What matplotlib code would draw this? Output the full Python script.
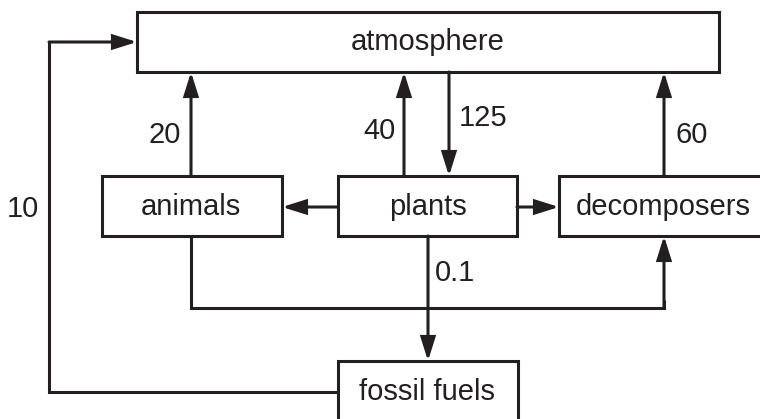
import matplotlib.pyplot as plt
from matplotlib.patches import Rectangle, FancyArrowPatch

# flow labels (carbon flux values)
node_names = ['atmosphere', 'animals', 'plants', 'decomposers', 'fossil fuels']
flow_values = ['20', '40', '125', '60', '0.1', '10']

ink = '#231f20'
lw = 2.2
fs = 21
font = 'Liberation Sans'

fig = plt.figure(figsize=(7.6, 4.19), dpi=100)
ax = fig.add_axes([0, 0, 1, 1])
ax.set_xlim(0, 760)
ax.set_ylim(419, 0)
ax.axis('off')

# box layout in pixel coords: x0, x1, y0, y1
boxes = {
    'atmosphere': (137, 719, 12, 72),
    'animals': (102, 282, 176, 236),
    'plants': (338, 517, 176, 236),
    'decomposers': (559, 820, 176, 236),
    'fossil fuels': (338, 518, 361, 460),
}
text_pos = {
    'atmosphere': (428, 42),
    'animals': (191, 207),
    'plants': (428, 207),
    'decomposers': (663, 207),
    'fossil fuels': (427, 392),
}

for name in node_names:
    x0, x1, y0, y1 = boxes[name]
    ax.add_patch(Rectangle((x0, y0), x1 - x0, y1 - y0, facecolor='white',
                           edgecolor=ink, linewidth=lw, joinstyle='miter', zorder=2))
    tx, ty = text_pos[name]
    ax.text(tx, ty, name, fontsize=fs, family=font, color=ink,
            ha='center', va='center', zorder=3)


def arrow(p0, p1):
    a = FancyArrowPatch(p0, p1, arrowstyle='-|>,head_length=0.7,head_width=0.22',
                        mutation_scale=20, color=ink, linewidth=lw,
                        shrinkA=0, shrinkB=0, joinstyle='miter', zorder=4)
    ax.add_patch(a)


def line(xs, ys):
    ax.plot(xs, ys, color=ink, linewidth=lw, solid_joinstyle='miter',
            solid_capstyle='butt', zorder=1)


# vertical flows to / from atmosphere
arrow((191, 176), (191, 72))
arrow((404, 176), (404, 72))
arrow((449, 72), (449, 176))
arrow((664, 176), (664, 72))

# plants to animals / decomposers
arrow((338, 207), (282, 207))
arrow((517, 207), (559, 207))

# animals to decomposers via bottom route
line([191, 191, 664, 664], [236, 308, 308, 300])
arrow((664, 308), (664, 236))

# plants to fossil fuels
arrow((428, 236), (428, 361))

# fossil fuels back to atmosphere
line([338, 49, 49], [392, 392, 42])
arrow((49, 42), (137, 42))

label_pos = [(165, 135), (379, 131), (483, 118), (692, 135), (455, 273), (23, 209)]
for val, (lx, ly) in zip(flow_values, label_pos):
    ax.text(lx, ly, val, fontsize=fs, family=font, color=ink,
            ha='center', va='center')

fig.savefig('out.png', dpi=100)
